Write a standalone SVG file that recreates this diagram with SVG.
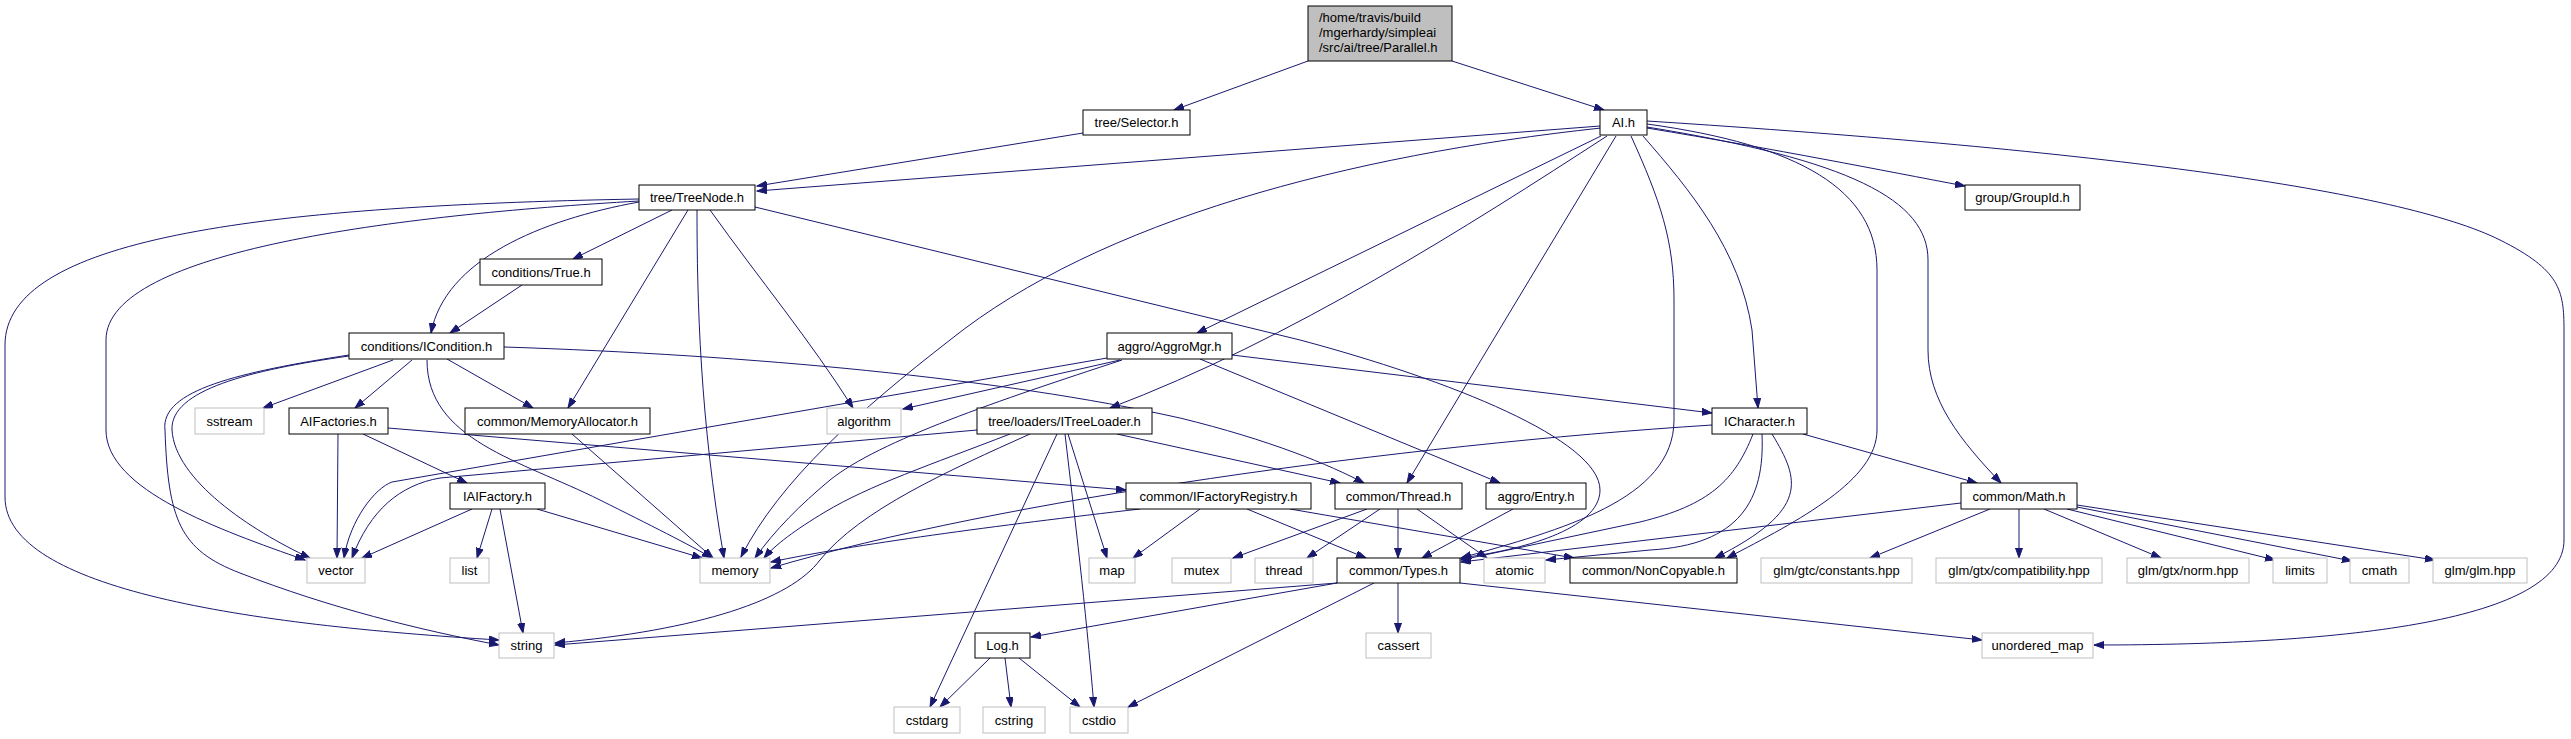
<svg xmlns="http://www.w3.org/2000/svg" width="2571" height="739" viewBox="0 0 2571 739">
<style>
.node rect{fill:#ffffff;stroke:#000000;stroke-width:1}
.node.ext rect{stroke:#bfbfbf}
.node.root rect{fill:#bfbfbf}
.node text{font-family:"Liberation Sans",Arial,Helvetica,sans-serif;font-size:13px;fill:#000000;text-anchor:middle}
.node.root text{text-anchor:start}
#edges path{fill:none;stroke:#191970;stroke-width:1;marker-end:url(#arr)}
</style>
<defs>
<marker id="arr" markerUnits="userSpaceOnUse" markerWidth="11" markerHeight="8" refX="10" refY="3.5" orient="auto">
<path d="M0,0 L10,3.5 L0,7 Z" fill="#191970" stroke="#191970" stroke-width="1"/>
</marker>
</defs>
<rect width="2571" height="739" fill="#ffffff"/>
<g id="edges">
<path d="M1308,61 L1174,110"/>
<path d="M1452,61 L1604,110"/>
<path d="M1083,133 L757,186"/>
<path d="M1600,126 L757,191"/>
<path d="M1647,128 C1780,150 1880,170 1965,186"/>
<path d="M1601,136 L1197,333"/>
<path d="M1607,136 C1470,225 1290,340 1110,408"/>
<path d="M1616,136 L1407,483"/>
<path d="M1631,136 C1660,200 1674,240 1674,300 L1674,420 C1674,500 1560,530 1461,558"/>
<path d="M1643,136 C1690,190 1740,250 1752,330 L1758,408"/>
<path d="M1601,128 C1350,155 1100,220 950,340 C860,410 780,480 741,557"/>
<path d="M1647,121 C2100,150 2400,190 2500,240 C2560,270 2564,290 2564,330 L2564,540 C2564,620 2350,645 2094,645"/>
<path d="M1647,124 C1800,145 1877,190 1877,270 L1877,430 C1877,480 1800,520 1727,558"/>
<path d="M1647,127 C1850,160 1928,200 1928,260 L1928,350 C1928,400 1960,440 2001,483"/>
<path d="M639,199 C250,206 5,240 5,345 L5,497 C5,590 250,625 499,640"/>
<path d="M639,201 C400,215 106,250 106,340 L106,430 C106,490 220,530 305,560"/>
<path d="M639,202 C540,220 445,260 431,333"/>
<path d="M672,210 L573,259"/>
<path d="M688,210 L568,408"/>
<path d="M697,210 C697,300 700,420 724,558"/>
<path d="M710,210 C760,280 810,340 853,408"/>
<path d="M755,207 L1300,340 C1450,380 1600,440 1600,490 C1600,530 1520,550 1461,558"/>
<path d="M522,285 L450,333"/>
<path d="M349,356 C250,370 170,390 172,430 C175,480 250,530 310,558"/>
<path d="M349,355 C240,372 160,390 165,430 C168,520 180,550 240,573 C330,608 420,630 499,645"/>
<path d="M393,360 L263,408"/>
<path d="M412,360 L355,408"/>
<path d="M427,360 C427,440 520,460 600,500 C650,525 690,545 712,558"/>
<path d="M447,359 L533,408"/>
<path d="M504,347 C750,355 1000,378 1180,418 C1270,440 1330,465 1364,483"/>
<path d="M338,434 L337,558"/>
<path d="M363,434 L467,483"/>
<path d="M388,428 L1126,490"/>
<path d="M472,509 L362,558"/>
<path d="M492,509 L477,558"/>
<path d="M500,509 L523,633"/>
<path d="M537,509 L702,558"/>
<path d="M572,434 L713,558"/>
<path d="M1107,358 L392,482 C375,488 350,520 344,558"/>
<path d="M1120,360 L903,409"/>
<path d="M1122,360 C1000,400 880,440 830,480 C800,505 775,530 755,558"/>
<path d="M1232,355 L1712,413"/>
<path d="M1200,359 L1500,483"/>
<path d="M977,430 L440,478 C400,485 370,510 352,558"/>
<path d="M1010,434 C930,465 870,485 825,512 C795,530 775,545 764,558"/>
<path d="M1030,434 C950,470 860,510 820,560 C790,600 700,630 555,643"/>
<path d="M1057,434 L930,707"/>
<path d="M1065,434 C1075,520 1085,600 1094,707"/>
<path d="M1068,434 L1107,558"/>
<path d="M1117,434 L1340,483"/>
<path d="M1200,509 L1133,558"/>
<path d="M1140,509 C1000,525 850,545 771,562"/>
<path d="M1247,509 L1366,558"/>
<path d="M1290,509 L1574,558"/>
<path d="M1367,509 L1233,558"/>
<path d="M1380,509 L1307,558"/>
<path d="M1398,509 L1398,558"/>
<path d="M1417,509 L1487,558"/>
<path d="M1513,509 L1422,558"/>
<path d="M1712,425 C1400,445 1000,500 771,568"/>
<path d="M1803,434 L1977,483"/>
<path d="M1753,434 C1735,480 1710,505 1640,522 L1461,560"/>
<path d="M1762,434 C1765,500 1740,545 1650,550 L1546,560"/>
<path d="M1772,434 C1800,480 1810,510 1715,558"/>
<path d="M1337,583 L555,645"/>
<path d="M1337,583 L1031,637"/>
<path d="M1374,583 L1128,707"/>
<path d="M1398,583 L1398,633"/>
<path d="M1460,583 L1982,640"/>
<path d="M990,658 L940,707"/>
<path d="M1005,658 L1011,707"/>
<path d="M1019,658 L1080,707"/>
<path d="M1961,503 L1461,562"/>
<path d="M1990,509 L1870,558"/>
<path d="M2019,509 L2019,558"/>
<path d="M2044,509 L2161,558"/>
<path d="M2067,509 L2275,560"/>
<path d="M2077,507 L2352,561"/>
<path d="M2077,505 L2435,560"/>
</g>
<g id="n_parallel" class="node root"><rect x="1308" y="6" width="144" height="55"/><text x="1319" y="22">/home/travis/build</text><text x="1319" y="37">/mgerhardy/simpleai</text><text x="1319" y="52">/src/ai/tree/Parallel.h</text></g>
<g id="n_selector" class="node"><rect x="1083" y="110" width="107" height="25"/><text x="1136.5" y="127">tree/Selector.h</text></g>
<g id="n_ai" class="node"><rect x="1600" y="110" width="47" height="25"/><text x="1623.5" y="127">AI.h</text></g>
<g id="n_treenode" class="node"><rect x="639" y="185" width="116" height="25"/><text x="697" y="202">tree/TreeNode.h</text></g>
<g id="n_groupid" class="node"><rect x="1965" y="185" width="115" height="25"/><text x="2022.5" y="202">group/GroupId.h</text></g>
<g id="n_true" class="node"><rect x="480" y="259" width="122" height="26"/><text x="541" y="276.5">conditions/True.h</text></g>
<g id="n_icondition" class="node"><rect x="349" y="333" width="155" height="26"/><text x="426.5" y="350.5">conditions/ICondition.h</text></g>
<g id="n_aggromgr" class="node"><rect x="1107" y="333" width="125" height="26"/><text x="1169.5" y="350.5">aggro/AggroMgr.h</text></g>
<g id="n_sstream" class="node ext"><rect x="195" y="408" width="69" height="26"/><text x="229.5" y="425.5">sstream</text></g>
<g id="n_aifactories" class="node"><rect x="289" y="408" width="99" height="26"/><text x="338.5" y="425.5">AIFactories.h</text></g>
<g id="n_memalloc" class="node"><rect x="465" y="408" width="185" height="26"/><text x="557.5" y="425.5">common/MemoryAllocator.h</text></g>
<g id="n_algorithm" class="node ext"><rect x="827" y="408" width="74" height="26"/><text x="864" y="425.5">algorithm</text></g>
<g id="n_itreeloader" class="node"><rect x="977" y="408" width="175" height="26"/><text x="1064.5" y="425.5">tree/loaders/ITreeLoader.h</text></g>
<g id="n_icharacter" class="node"><rect x="1712" y="408" width="95" height="26"/><text x="1759.5" y="425.5">ICharacter.h</text></g>
<g id="n_iaifactory" class="node"><rect x="450" y="483" width="95" height="26"/><text x="497.5" y="500.5">IAIFactory.h</text></g>
<g id="n_ifactoryregistry" class="node"><rect x="1126" y="483" width="185" height="26"/><text x="1218.5" y="500.5">common/IFactoryRegistry.h</text></g>
<g id="n_thread_h" class="node"><rect x="1335" y="483" width="127" height="26"/><text x="1398.5" y="500.5">common/Thread.h</text></g>
<g id="n_entry" class="node"><rect x="1486" y="483" width="100" height="26"/><text x="1536" y="500.5">aggro/Entry.h</text></g>
<g id="n_math" class="node"><rect x="1961" y="483" width="116" height="26"/><text x="2019" y="500.5">common/Math.h</text></g>
<g id="n_vector" class="node ext"><rect x="307" y="558" width="58" height="25"/><text x="336" y="575">vector</text></g>
<g id="n_list" class="node ext"><rect x="450" y="558" width="39" height="25"/><text x="469.5" y="575">list</text></g>
<g id="n_memory" class="node ext"><rect x="700" y="558" width="70" height="25"/><text x="735" y="575">memory</text></g>
<g id="n_map" class="node ext"><rect x="1089" y="558" width="46" height="25"/><text x="1112" y="575">map</text></g>
<g id="n_mutex" class="node ext"><rect x="1172" y="558" width="59" height="25"/><text x="1201.5" y="575">mutex</text></g>
<g id="n_thread" class="node ext"><rect x="1255" y="558" width="58" height="25"/><text x="1284" y="575">thread</text></g>
<g id="n_types" class="node"><rect x="1337" y="558" width="123" height="25"/><text x="1398.5" y="575">common/Types.h</text></g>
<g id="n_atomic" class="node ext"><rect x="1484" y="558" width="61" height="25"/><text x="1514.5" y="575">atomic</text></g>
<g id="n_noncopyable" class="node"><rect x="1570" y="558" width="167" height="25"/><text x="1653.5" y="575">common/NonCopyable.h</text></g>
<g id="n_constants" class="node ext"><rect x="1761" y="558" width="151" height="25"/><text x="1836.5" y="575">glm/gtc/constants.hpp</text></g>
<g id="n_compat" class="node ext"><rect x="1936" y="558" width="166" height="25"/><text x="2019" y="575">glm/gtx/compatibility.hpp</text></g>
<g id="n_norm" class="node ext"><rect x="2127" y="558" width="122" height="25"/><text x="2188" y="575">glm/gtx/norm.hpp</text></g>
<g id="n_limits" class="node ext"><rect x="2273" y="558" width="54" height="25"/><text x="2300" y="575">limits</text></g>
<g id="n_cmath" class="node ext"><rect x="2350" y="558" width="59" height="25"/><text x="2379.5" y="575">cmath</text></g>
<g id="n_glm" class="node ext"><rect x="2433" y="558" width="94" height="25"/><text x="2480" y="575">glm/glm.hpp</text></g>
<g id="n_string" class="node ext"><rect x="499" y="633" width="55" height="25"/><text x="526.5" y="650">string</text></g>
<g id="n_log" class="node"><rect x="975" y="633" width="55" height="25"/><text x="1002.5" y="650">Log.h</text></g>
<g id="n_cassert" class="node ext"><rect x="1366" y="633" width="65" height="25"/><text x="1398.5" y="650">cassert</text></g>
<g id="n_unordered_map" class="node ext"><rect x="1982" y="633" width="111" height="25"/><text x="2037.5" y="650">unordered_map</text></g>
<g id="n_cstdarg" class="node ext"><rect x="894" y="707" width="66" height="26"/><text x="927" y="724.5">cstdarg</text></g>
<g id="n_cstring" class="node ext"><rect x="983" y="707" width="62" height="26"/><text x="1014" y="724.5">cstring</text></g>
<g id="n_cstdio" class="node ext"><rect x="1070" y="707" width="58" height="26"/><text x="1099" y="724.5">cstdio</text></g>
</svg>
